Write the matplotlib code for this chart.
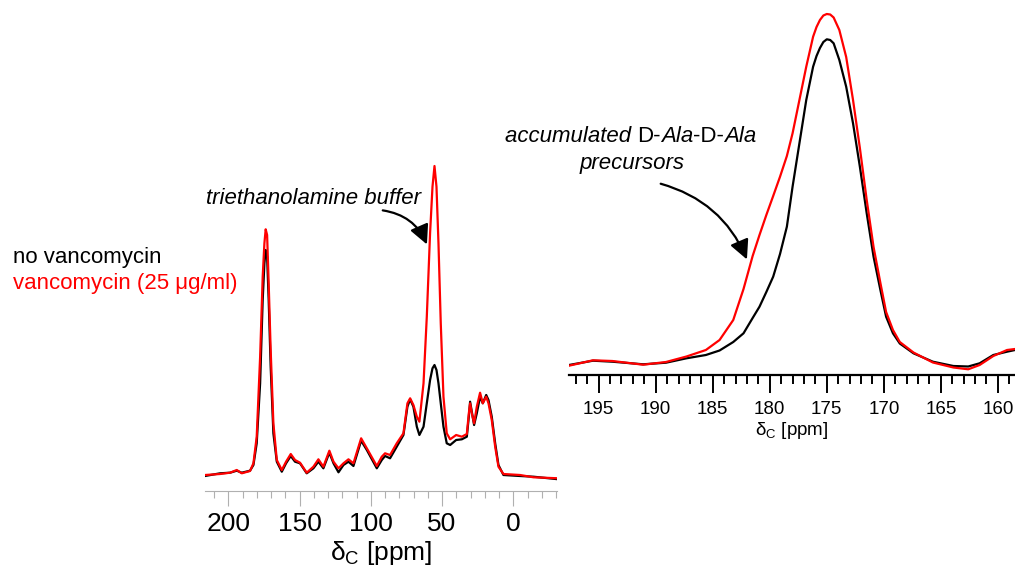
import numpy as np
import matplotlib
matplotlib.use('Agg')
import matplotlib.pyplot as plt
from matplotlib.patches import FancyArrowPatch
from matplotlib.text import Annotation
from matplotlib.ticker import MultipleLocator

plt.rcParams['font.family'] = ['Liberation Sans', 'DejaVu Sans']
plt.rcParams['mathtext.fontset'] = 'custom'
plt.rcParams['mathtext.rm'] = 'Liberation Sans'
plt.rcParams['mathtext.it'] = 'Liberation Sans:italic'

# full spectrum (left), chemical shift in ppm and intensity (arb. units)
full_ppm = [216.4, 205.8, 198.8, 194.1, 190.6, 184.8, 182.4, 180.1, 177.7, 175.9,
            174.7, 173.8, 172.8, 171.7, 170.3, 168.4, 166.0, 162.5, 159.5, 156.2,
            153.2, 149.7, 145.0, 140.3, 136.8, 133.3, 129.1, 126.2, 122.7, 119.2,
            115.7, 112.2, 106.8, 102.8, 95.8, 92.3, 90.0, 86.5, 81.8, 77.1,
            74.3, 72.4, 70.1, 67.7, 65.9, 63.0, 60.7, 58.4, 56.7, 55.3,
            53.9, 52.5, 50.9, 49.0, 46.7, 44.3, 40.1, 36.1, 32.6, 31.2,
            30.3, 29.1, 27.5, 25.6, 23.3, 21.4, 19.0, 17.4, 15.1, 12.7,
            10.4, 6.9, -4.8, -14.2, -31.8]
full_no_vanco = [-1, 1.7, 2.3, 4.3, 2.3, 4.3, 10, 31.7, 91.7, 175,
                 211.7, 225, 218.3, 175, 108.3, 41.7, 13.3, 3.3, 11.7, 19,
                 13.3, 11.7, 1.7, 6.7, 13.3, 6.7, 22.3, 11.7, 2.7, 10,
                 13.3, 9, 34.3, 25, 6.7, 15, 19, 16.7, 28.3, 40,
                 68.3, 75.7, 68.3, 48.3, 40, 48.3, 71.7, 95, 106.7, 110,
                 105, 91.7, 71.7, 48.3, 31.7, 30, 35, 35.7, 38.3, 58.3,
                 73.3, 63.3, 50, 61.7, 78.3, 71.7, 80, 75, 58.3, 31.7,
                 10, 0, -1, -1.7, -4.3]
full_vanco = [0, 1, 2.3, 5, 1.7, 4, 11.7, 38.3, 118.3, 198.3,
              231.7, 245.7, 240, 191.7, 125, 51.7, 15, 5, 13.3, 21,
              15, 12.3, 2.3, 8.3, 15.7, 8.3, 24.3, 13.3, 6.7, 11.7,
              15.7, 11.7, 36.7, 26.7, 9, 18.3, 21.7, 20, 31.7, 41.7,
              71.7, 76.7, 70, 58.3, 53.3, 91.7, 158.3, 241.7, 288.3, 309,
              288.3, 231.7, 151.7, 78.3, 41.7, 35.7, 40, 38.3, 41, 61.7,
              71.7, 61.7, 51.7, 68.3, 82.3, 71.7, 78.3, 71.7, 55, 28.3,
              8.3, 1, 0, -2.3, -3.3]

# carbonyl region (right)
co_ppm = [197.6, 195.5, 193.8, 191.1, 189.1, 187.3, 185.6, 184.4, 183.2, 182.3,
          181.5, 180.9, 180.3, 179.7, 179.1, 178.5, 178.0, 177.4, 176.8, 176.2,
          175.9, 175.6, 175.3, 175.0, 174.7, 174.4, 173.9, 173.3, 172.7, 172.1,
          171.5, 170.9, 170.3, 169.8, 169.2, 168.6, 167.4, 165.7, 163.9, 162.6,
          161.6, 160.4, 159.2, 158.5]
co_no_vanco = [-3, 1.3, 0.3, -2.3, -0.7, 3.7, 7, 11.5, 20, 28.7,
               44, 55.3, 70, 85.3, 108, 135.3, 175.3, 218.7, 262, 295.3,
               306, 314, 320, 322.7, 322, 318.7, 302, 275.3, 238.7, 195.3,
               148.7, 105.3, 72, 45.3, 28.7, 18.5, 8.7, 0.3, -4, -4.5,
               -1.3, 7, 10.3, 12]
co_vanco = [-3.7, 1.7, 1, -2.7, 0, 5.5, 12, 22, 42, 73,
            106, 127, 147, 166, 185.3, 206, 228.7, 262, 295.3, 325.3,
            335, 342, 346.5, 348, 347.5, 344.5, 332, 305, 262, 214,
            162, 115, 79, 50, 32, 20, 9.5, -0.5, -5.5, -7.3,
            -3, 6, 12, 13]

RED = '#ff0000'

fig = plt.figure(figsize=(10.15, 5.74), dpi=100)

# left panel: full spectrum
ax1 = fig.add_axes([205 / 1015, 83 / 574, 352 / 1015, 341 / 574])
ax1.plot(full_ppm, full_no_vanco, color='black', lw=1.6)
ax1.plot(full_ppm, full_vanco, color=RED, lw=1.6)
ax1.set_xlim(216.4, -30.7)
ax1.set_ylim(-16, 325)
for s in ['top', 'left', 'right']:
    ax1.spines[s].set_visible(False)
ax1.spines['bottom'].set_color('#b0b0b0')
ax1.spines['bottom'].set_linewidth(0.8)
ax1.set_yticks([])
ax1.xaxis.set_major_locator(MultipleLocator(50))
ax1.xaxis.set_minor_locator(MultipleLocator(10))
ax1.tick_params(axis='x', which='major', direction='out', length=11, width=0.8,
                color='#b0b0b0', labelsize=19, pad=4)
ax1.tick_params(axis='x', which='minor', direction='out', length=5, width=0.8,
                color='#b0b0b0')
ax1.set_xlabel('\u03b4$_\\mathrm{C}$ [ppm]', fontsize=19, labelpad=2)
ax1.patch.set_alpha(0)

# right panel: carbonyl region
ax2 = fig.add_axes([569 / 1015, 199 / 574, 446 / 1015, 375 / 574])
ax2.plot(co_ppm, co_no_vanco, color='black', lw=1.6)
ax2.plot(co_ppm, co_vanco, color=RED, lw=1.6)
ax2.set_xlim(197.6, 158.5)
ax2.set_ylim(-13, 362)
for s in ['top', 'left', 'right']:
    ax2.spines[s].set_visible(False)
ax2.spines['bottom'].set_linewidth(1.6)
ax2.set_yticks([])
ax2.xaxis.set_major_locator(MultipleLocator(5))
ax2.xaxis.set_minor_locator(MultipleLocator(1))
ax2.tick_params(axis='x', which='major', direction='out', length=13, width=1.4,
                labelsize=13.5, pad=6)
ax2.tick_params(axis='x', which='minor', direction='out', length=6.5, width=1.4)
ax2.set_xlabel('\u03b4$_\\mathrm{C}$ [ppm]', fontsize=13.5, labelpad=1)
ax2.patch.set_alpha(0)

# legend text
fig.text(13 / 1015, 1 - 257 / 574, 'no vancomycin', fontsize=16, color='black',
         va='center', ha='left')
fig.text(13 / 1015, 1 - 283 / 574, 'vancomycin (25 \u03bcg/ml)', fontsize=16,
         color=RED, va='center', ha='left')

arrow_kw = dict(transform=fig.transFigure,
                arrowstyle='-|>,head_length=0.9,head_width=0.45',
                mutation_scale=13, lw=1.6, color='black')

# annotation left
fig.text(313 / 1015, 1 - 199 / 574, 'triethanolamine buffer', fontsize=16,
         style='italic', ha='center', va='center')
fig.add_artist(FancyArrowPatch((380 / 1015, 1 - 210 / 574), (428 / 1015, 1 - 247 / 574),
                               connectionstyle='arc3,rad=-0.3', **arrow_kw))

# annotation right, mixed italic / upright pieces chained together
last = fig.text(505 / 1015, 1 - 137 / 574, 'accumulated ', fontsize=16,
                style='italic', ha='left', va='center')
pieces = [('D-', 'normal'), ('Ala', 'italic'), ('-D-', 'normal'), ('Ala', 'italic')]
for txt, st in pieces:
    last = fig.add_artist(Annotation(txt, xy=(1, 0.5), xycoords=last, fontsize=16,
                                     style=st, ha='left', va='center'))

fig.text(632 / 1015, 1 - 163 / 574, 'precursors', fontsize=16, style='italic',
         ha='center', va='center')
fig.add_artist(FancyArrowPatch((658 / 1015, 1 - 183 / 574), (748 / 1015, 1 - 262 / 574),
                               connectionstyle='arc3,rad=-0.25', **arrow_kw))

fig.savefig('out.png', dpi=100)
